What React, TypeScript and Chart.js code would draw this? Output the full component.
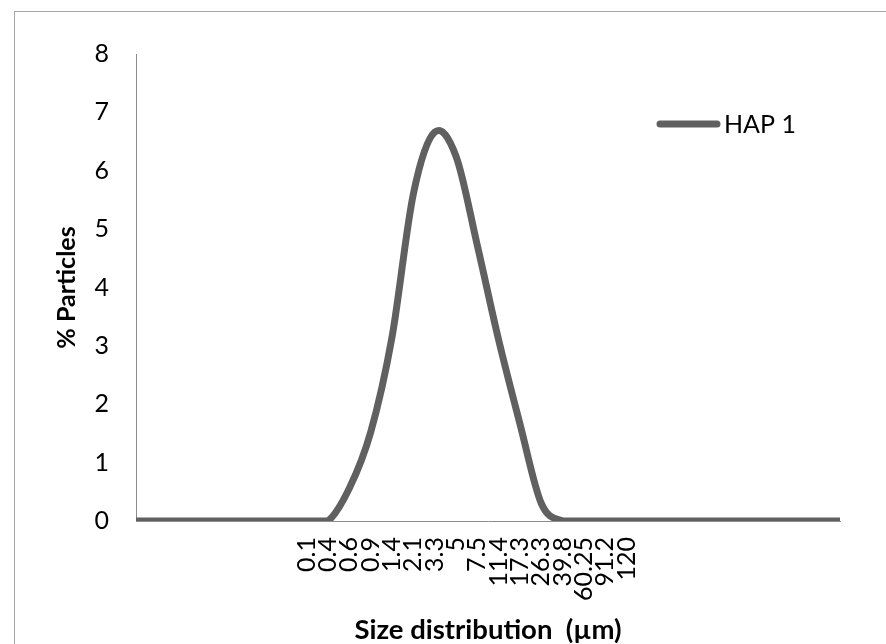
import React, { useEffect, useRef } from "react";
import { Chart, registerables } from "chart.js";

Chart.register(...registerables);

// Category labels (size classes, µm); blank rows carry no label in the source sheet
const sizeLabels: string[] = [
  "", "", "", "", "", "", "", "",
  "0.1", "0.4", "0.6", "0.9", "1.4", "2.1", "3.3", "5",
  "7.5", "11.4", "17.3", "26.3", "39.8", "60.25", "91.2", "120",
  "", "", "", "", "", "", "", "", "", "",
];

// % particles for HAP 1
const hap1Values: number[] = [
  0, 0, 0, 0, 0, 0, 0, 0, 0, 0,
  0.56, 1.52, 3.15, 5.6, 6.66, 6.25, 4.72, 3.1, 1.66, 0.3,
  0, 0, 0, 0, 0, 0, 0, 0, 0, 0, 0, 0, 0, 0,
];

const seriesName = "HAP 1";
const xTitle = "Size distribution  (µm)";
const yTitle = "% Particles";
const yMin = 0;
const yMax = 8;
const yStep = 1;

const LINE = "#606060";
const AXIS = "#8c8c8c";
const FONT = "Lato";

export default function App() {
  const ref = useRef<HTMLCanvasElement | null>(null);

  useEffect(() => {
    if (!ref.current) return;

    // Spreadsheet-style smoothed line: uniform Catmull-Rom control points
    const smoothPlugin = {
      id: "uniformSmooth",
      beforeDatasetDraw(chart: any, args: any) {
        const meta = args.meta;
        const line = meta.dataset;
        const pts = meta.data;
        if (!line || !pts || !pts.length) return;
        if (typeof line.updateControlPoints === "function") {
          line.updateControlPoints(chart.chartArea, "x");
        }
        const area = chart.chartArea;
        const capY = (v: number) => Math.max(area.top, Math.min(area.bottom, v));
        const n = pts.length;
        for (let i = 0; i < n; i++) {
          const p = pts[i];
          const prev = pts[Math.max(0, i - 1)];
          const next = pts[Math.min(n - 1, i + 1)];
          const tx = (next.x - prev.x) / 6;
          const ty = (next.y - prev.y) / 6;
          p.cp1x = p.x - tx;
          p.cp1y = capY(p.y - ty);
          p.cp2x = p.x + tx;
          p.cp2y = capY(p.y + ty);
        }
        line._path = undefined;
      },
    };

    const legendPlugin = {
      id: "insideLegend",
      afterDraw(chart: any) {
        const ctx = chart.ctx;
        const ds = chart.data.datasets[0];
        ctx.save();
        ctx.strokeStyle = ds.borderColor;
        ctx.lineWidth = 7;
        ctx.lineCap = "round";
        ctx.beginPath();
        ctx.moveTo(660, 124);
        ctx.lineTo(717, 124);
        ctx.stroke();
        ctx.fillStyle = "#000";
        ctx.font = `25px ${FONT}`;
        ctx.textBaseline = "alphabetic";
        ctx.textAlign = "left";
        ctx.fillText(ds.label, 724, 133);
        ctx.restore();
      },
    };

    const chart = new Chart(ref.current, {
      type: "line",
      data: {
        labels: sizeLabels,
        datasets: [
          {
            label: seriesName,
            data: hap1Values,
            borderColor: LINE,
            backgroundColor: LINE,
            borderWidth: 7,
            pointRadius: 0,
            pointHoverRadius: 0,
            tension: 0.4,
            borderCapStyle: "butt",
            borderJoinStyle: "round",
            fill: false,
          },
        ],
      },
      options: {
        responsive: false,
        animation: false,
        events: [],
        layout: { padding: { left: 0, top: 54, right: 41, bottom: 0 } },
        plugins: {
          legend: { display: false },
          tooltip: { enabled: false },
        },
        scales: {
          x: {
            type: "category",
            offset: false,
            grid: { display: false, drawTicks: false },
            border: { display: true, color: AXIS, width: 1 },
            ticks: {
              autoSkip: false,
              maxRotation: 90,
              minRotation: 90,
              padding: 16,
              color: "#000",
              font: { family: FONT, size: 25 },
            },
            title: {
              display: true,
              text: xTitle,
              color: "#000",
              font: { family: FONT, size: 27.5, weight: "bold", lineHeight: 1 },
              padding: { top: 0, bottom: 0 },
            },
            afterFit: (s: any) => {
              s.height = 123;
            },
          },
          y: {
            min: yMin,
            max: yMax,
            grid: { display: false, drawTicks: false },
            border: { display: true, color: AXIS, width: 1 },
            ticks: {
              stepSize: yStep,
              padding: 27,
              color: "#000",
              font: { family: FONT, size: 25 },
            },
            title: {
              display: true,
              text: yTitle,
              color: "#000",
              font: { family: FONT, size: 25, weight: "bold", lineHeight: 1.2 },
              padding: { top: 52, bottom: 0 },
            },
            afterFit: (s: any) => {
              s.width = 136;
            },
          },
        },
      },
      plugins: [smoothPlugin, legendPlugin],
    } as any);

    return () => chart.destroy();
  }, []);

  return (
    <div
      style={{
        position: "fixed",
        left: 0,
        top: 0,
        width: 886,
        height: 644,
        overflow: "hidden",
        background: "#fff",
      }}
    >
      <div
        style={{
          position: "absolute",
          left: 14,
          top: 11,
          width: 1000,
          height: 1000,
          border: "1px solid #a6a6a6",
        }}
      />
      <canvas
        ref={ref}
        width={886}
        height={644}
        style={{ position: "absolute", left: 0, top: 0 }}
      />
    </div>
  );
}
